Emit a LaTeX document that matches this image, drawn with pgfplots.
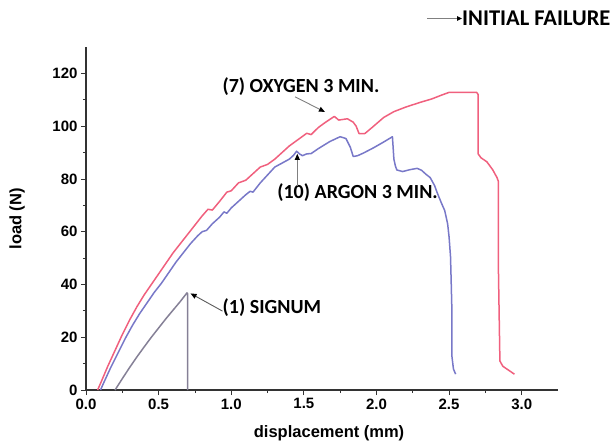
\documentclass[border=0pt]{standalone}
\usepackage{fontspec}
\setmainfont{Liberation Sans}
\newfontfamily\annfont{Carlito}
\usepackage{pgfplots}
\pgfplotsset{compat=1.18}
\usetikzlibrary{arrows.meta}
\definecolor{oxy}{HTML}{F0607E}
\definecolor{arg}{HTML}{7878C8}
\definecolor{sig}{HTML}{858096}
\definecolor{arr}{HTML}{808080}
\begin{document}
\begin{tikzpicture}[x=1pt,y=1pt]
\path[use as bounding box] (0,0) rectangle (614,445);
\begin{axis}[
  at={(86pt,55pt)}, anchor=south west,
  scale only axis, width=472pt, height=343pt,
  xmin=0, xmax=3.25, ymin=0, ymax=130,
  axis lines=left, axis line style={-, draw=black!80, line width=1.2pt},
  xtick={0,0.5,...,3.0}, ytick={0,20,...,120},
  minor x tick num=1, minor y tick num=1,
  tick align=outside, major tick length=5pt, minor tick length=3pt,
  tick style={black!80, line width=0.8pt},
  xticklabel style={/pgf/number format/.cd, fixed, fixed zerofill, precision=1},
  /pgf/number format/assume math mode=true,
  ticklabel style={font=\fontsize{15}{17}\selectfont\bfseries},
  xlabel={displacement (mm)}, ylabel={load (N)},
  label style={font=\fontsize{16.5}{18}\selectfont\bfseries},
  xlabel style={at={(axis description cs:0.515,-0.125)}, anchor=center},
  ylabel style={at={(axis description cs:-0.146,0.499)}, anchor=center},
  clip=false,
]
% (7) oxygen 3 min
\addplot[oxy, line width=1.5pt, line join=round] coordinates {
(0.08,0) (0.1,2.5) (0.15,9) (0.2,15) (0.25,21) (0.3,26.5) (0.35,31.5) (0.4,36) (0.45,40) (0.5,44)
(0.55,48) (0.6,52) (0.65,55.5) (0.7,59) (0.75,62.5) (0.8,66) (0.84,68.5) (0.87,68.2) (0.92,71.5)
(0.97,75) (1.0,75.5) (1.05,78.5) (1.1,79.5) (1.15,82) (1.2,84.5) (1.25,85.5) (1.3,87.5) (1.35,90)
(1.4,92.5) (1.45,94.5) (1.5,96.5) (1.52,97.3) (1.55,96.8) (1.6,99.5) (1.65,101.5) (1.71,103.7)
(1.74,102.3) (1.8,102.8) (1.84,101.5) (1.86,100) (1.88,97.2) (1.92,97.2) (1.97,99.5) (2.05,103.3)
(2.12,105.5) (2.2,107.2) (2.3,109) (2.38,110.3) (2.45,111.8) (2.5,112.8) (2.69,112.8) (2.70,112)
(2.70,89.5) (2.72,88) (2.76,86.5) (2.80,83.5) (2.83,80.5) (2.84,79) (2.84,45) (2.85,11) (2.87,9)
(2.91,7.5) (2.95,6)
};
% (10) argon 3 min
\addplot[arg, line width=1.5pt, line join=round] coordinates {
(0.1,0) (0.12,2.5) (0.17,8.5) (0.22,14) (0.27,19.5) (0.32,24.5) (0.37,29) (0.42,33) (0.47,37)
(0.52,40.5) (0.57,44.5) (0.62,48.5) (0.67,52) (0.72,55.5) (0.77,58.5) (0.8,60) (0.83,60.5)
(0.87,63) (0.92,65.5) (0.95,67.5) (0.97,67) (1.0,69) (1.05,71.5) (1.1,74) (1.13,75.3) (1.15,75)
(1.2,78.5) (1.25,81.5) (1.3,84.5) (1.35,86) (1.4,87.5) (1.43,89) (1.45,90.5) (1.47,89.5)
(1.49,88.8) (1.52,89.5) (1.55,89.6) (1.6,91.5) (1.68,94.2) (1.75,96) (1.79,95.3) (1.82,92)
(1.84,88.5) (1.87,88.8) (1.91,89.8) (1.98,91.8) (2.05,94) (2.11,96) (2.12,87.5) (2.13,85)
(2.14,83.4) (2.18,82.8) (2.23,83.5) (2.28,84) (2.31,83.3) (2.34,81.8) (2.37,80.5) (2.40,77.5)
(2.42,74.5) (2.45,70.5) (2.47,68) (2.49,63) (2.50,58) (2.51,50.5) (2.515,40) (2.52,29)
(2.52,12.6) (2.53,8) (2.545,6)
};
% (1) signum
\addplot[sig, line width=1.5pt, line join=round] coordinates {
(0.2,0) (0.25,4.3) (0.3,8.5) (0.35,12.5) (0.4,16.3) (0.45,20) (0.5,23.5) (0.55,27)
(0.6,30.3) (0.65,33.6) (0.695,36.8) (0.70,36.5) (0.70,0)
};
% annotations
\node[font=\annfont\fontsize{20}{22}\selectfont\bfseries] at (axis cs:1.48,114.9) {(7) OXYGEN 3 MIN.};
\draw[arr, line width=0.9pt, -{Triangle[length=6pt,width=5pt,color=black]}] (axis cs:1.44,111.1) -- (axis cs:1.645,105.4);
\node[font=\annfont\fontsize{20}{22}\selectfont\bfseries] at (axis cs:1.87,74.7) {(10) ARGON 3 MIN.};
\draw[arr, line width=0.9pt, -{Triangle[length=6pt,width=5pt,color=black]}] (axis cs:1.455,77.5) -- (axis cs:1.455,89.5);
\node[font=\annfont\fontsize{20}{22}\selectfont\bfseries] at (axis cs:1.28,31.2) {(1) SIGNUM};
\draw[arr!70!black, line width=0.9pt, -{Triangle[length=6pt,width=5pt,color=black]}] (axis cs:0.94,29.9) -- (axis cs:0.72,36.6);
\end{axis}
\draw[arr, line width=1.2pt, -{Triangle[length=5pt,width=4.5pt,color=black]}] (427,426.5) -- (462,426.5);
\node[anchor=west, inner sep=0pt, font=\annfont\fontsize{22.5}{24}\selectfont\bfseries] at (462,426.5) {INITIAL FAILURE};
\end{tikzpicture}
\end{document}
